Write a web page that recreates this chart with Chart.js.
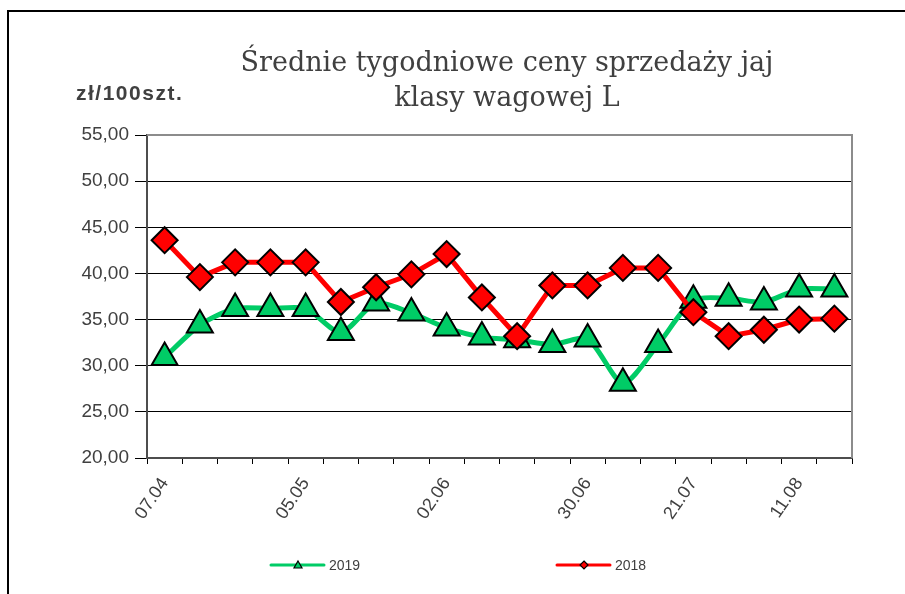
<!DOCTYPE html>
<html>
<head>
<meta charset="utf-8">
<script src="https://cdn.jsdelivr.net/npm/chart.js@4"></script>
<style>
  html, body { margin: 0; padding: 0; background: #fff; }
  #wrap { width: 905px; height: 594px; }
</style>
</head>
<body>
<div id="wrap"><canvas id="chart" width="905" height="594"></canvas></div>
<script>
// weekly dates (only some are printed on the axis)
const weeks = ['07.04', '14.04', '21.04', '28.04', '05.05', '12.05', '19.05', '26.05', '02.06', '09.06',
  '16.06', '23.06', '30.06', '07.07', '14.07', '21.07', '28.07', '04.08', '11.08', '18.08'];
const shownWeeks = ['07.04', '05.05', '02.06', '30.06', '21.07', '11.08'];

const prices2019 = [30.9, 34.4, 36.2, 36.2, 36.2, 33.6, 36.8, 35.7, 34.1, 33.1,
  32.8, 32.3, 32.9, 28.1, 32.3, 37.1, 37.3, 36.9, 38.3, 38.3];
const prices2018 = [43.6, 39.6, 41.2, 41.2, 41.2, 36.9, 38.5, 39.9, 42.1, 37.4,
  33.2, 38.7, 38.7, 40.6, 40.6, 35.8, 33.2, 33.9, 35.0, 35.1];

const yTicks = [20, 25, 30, 35, 40, 45, 50, 55];

const GREEN = '#00cc66';
const RED = '#ff0000';

// frame, title, unit label and legend
const decorations = {
  id: 'decorations',
  afterDraw(chart) {
    const ctx = chart.ctx;
    const area = chart.chartArea;
    ctx.save();

    // outer frame
    ctx.strokeStyle = '#000';
    ctx.lineWidth = 2;
    ctx.beginPath();
    ctx.moveTo(8, 600);
    ctx.lineTo(8, 11);
    ctx.lineTo(910, 11);
    ctx.stroke();

    // plot area border (top and right)
    ctx.strokeStyle = '#8c8c8c';
    ctx.lineWidth = 2;
    ctx.beginPath();
    ctx.moveTo(area.left, area.top);
    ctx.lineTo(area.right, area.top);
    ctx.lineTo(area.right, area.bottom);
    ctx.stroke();

    // title
    ctx.fillStyle = '#404040';
    ctx.font = '27px "DejaVu Serif"';
    ctx.textAlign = 'center';
    ctx.textBaseline = 'middle';
    ctx.fillText('Średnie tygodniowe ceny sprzedaży jaj', 507, 64);
    ctx.fillText('klasy wagowej L', 507, 99);

    // unit
    ctx.font = 'bold 21px "Liberation Sans"';
    ctx.letterSpacing = '1.5px';
    ctx.textAlign = 'left';
    ctx.fillText('zł/100szt.', 76, 94);
    ctx.letterSpacing = '0px';

    // legend
    const items = [
      { ds: chart.data.datasets[0], x: 271 },
      { ds: chart.data.datasets[1], x: 557 }
    ];
    const ly = 565;
    ctx.font = '14px "Liberation Sans"';
    ctx.textBaseline = 'middle';
    items.forEach(it => {
      ctx.strokeStyle = it.ds.borderColor;
      ctx.lineWidth = 3;
      ctx.lineCap = 'round';
      ctx.beginPath();
      ctx.moveTo(it.x, ly);
      ctx.lineTo(it.x + 53, ly);
      ctx.stroke();
      ctx.lineCap = 'butt';
      ctx.fillStyle = it.ds.pointBackgroundColor;
      ctx.strokeStyle = '#000';
      ctx.lineWidth = 1.2;
      const cx = it.x + 27;
      ctx.beginPath();
      if (it.ds.pointStyle === 'triangle') {
        ctx.moveTo(cx, ly - 4);
        ctx.lineTo(cx + 4, ly + 3);
        ctx.lineTo(cx - 4, ly + 3);
      } else {
        ctx.moveTo(cx, ly - 4);
        ctx.lineTo(cx + 4, ly);
        ctx.lineTo(cx, ly + 4);
        ctx.lineTo(cx - 4, ly);
      }
      ctx.closePath();
      ctx.fill();
      ctx.stroke();
      ctx.fillStyle = '#404040';
      ctx.fillText(it.ds.label, it.x + 58, ly + 1);
    });
    ctx.restore();
  }
};

new Chart(document.getElementById('chart'), {
  type: 'line',
  data: {
    labels: weeks,
    datasets: [
      {
        label: '2019',
        data: prices2019,
        borderColor: GREEN,
        borderWidth: 5,
        pointStyle: 'triangle',
        pointRadius: 15,
        pointBackgroundColor: GREEN,
        pointBorderColor: '#000',
        pointBorderWidth: 2,
        tension: 0.25,
        order: 2
      },
      {
        label: '2018',
        data: prices2018,
        borderColor: RED,
        borderWidth: 5,
        pointStyle: 'rectRot',
        pointRadius: 13,
        pointBackgroundColor: RED,
        pointBorderColor: '#000',
        pointBorderWidth: 2,
        tension: 0,
        order: 1
      }
    ]
  },
  options: {
    responsive: false,
    animation: false,
    events: [],
    layout: { padding: { top: 135, left: 10, right: 53, bottom: 0 } },
    plugins: {
      legend: { display: false },
      title: { display: false },
      tooltip: { enabled: false }
    },
    scales: {
      x: {
        type: 'category',
        offset: true,
        afterFit: scale => { scale.height = 136; },
        grid: {
          offset: true,
          drawOnChartArea: false,
          drawTicks: true,
          tickLength: 6,
          color: '#000',
          lineWidth: 1
        },
        border: { color: '#4d4d4d', width: 2 },
        ticks: {
          autoSkip: false,
          maxRotation: 56,
          minRotation: 56,
          padding: 10,
          color: '#404040',
          font: { family: 'Liberation Sans', size: 18 },
          callback: function (value) {
            const lab = this.getLabelForValue(value);
            return shownWeeks.includes(lab) ? lab : '';
          }
        }
      },
      y: {
        min: 20,
        max: 55,
        afterFit: scale => { scale.width = 137; },
        afterBuildTicks: scale => { scale.ticks = yTicks.map(v => ({ value: v })); },
        grid: {
          color: '#000',
          lineWidth: 1,
          tickLength: 12
        },
        border: { color: '#4d4d4d', width: 2 },
        ticks: {
          padding: 6,
          color: '#404040',
          font: { family: 'Liberation Sans', size: 19 },
          callback: v => v.toFixed(2).replace('.', ',')
        }
      }
    }
  },
  plugins: [decorations]
});
</script>
</body>
</html>
